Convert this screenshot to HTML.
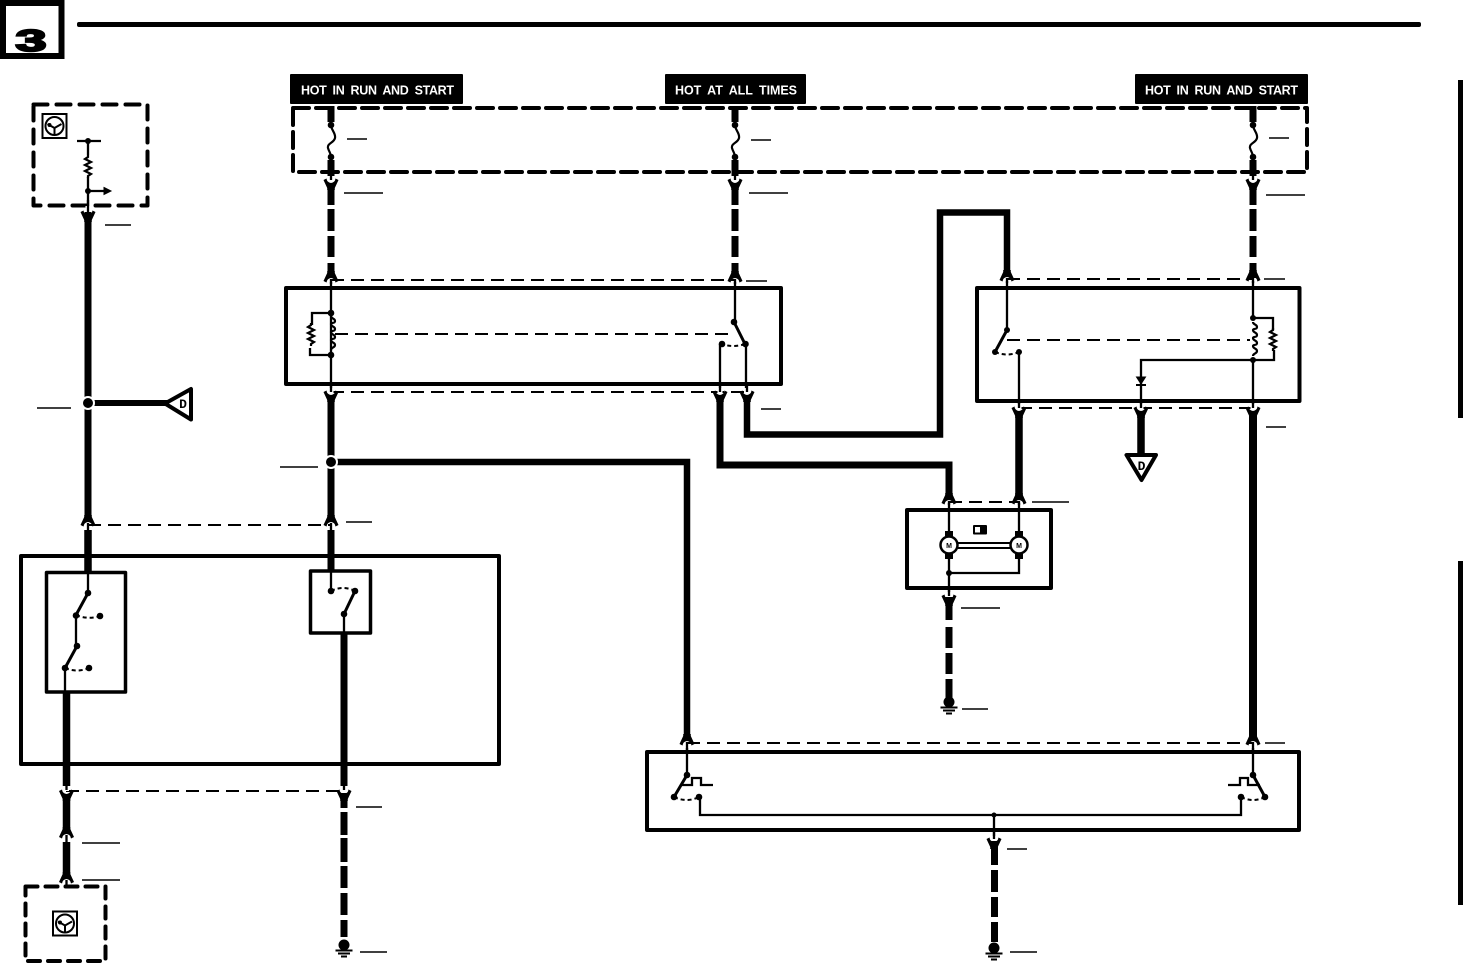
<!DOCTYPE html>
<html><head><meta charset="utf-8"><title>Wiring diagram</title>
<style>
html,body{margin:0;padding:0;background:#fff;overflow:hidden}
svg{display:block}
.hd{font:bold 12.5px "Liberation Sans",sans-serif;fill:#fff;word-spacing:3px}
.d{font:bold 13px "Liberation Mono",monospace;fill:#000;text-anchor:middle}
.m{font:bold 7px "Liberation Sans",sans-serif;fill:#000;text-anchor:middle}
</style></head><body>
<svg width="1463" height="963" viewBox="0 0 1463 963" xmlns="http://www.w3.org/2000/svg">
<defs>
<path id="y" d="M-7.500,-4 L-4.500,-5.500 Q-4,-1.500 0,-1 Q4,-1.500 4.500,-5.500 L7.500,-4 L3.800,4 L3.800,6 L-3.800,6 L-3.800,4 Z" fill="#000"/>
<g id="gnd"><circle cx="0" cy="0" r="5.500" fill="#000"/><path d="M-8.500,5.500H8.500M-6,8.500H6M-3,11.500H3" stroke="#000" stroke-width="2" fill="none"/></g>
<g id="icon"><rect x="-12" y="-12" width="24" height="24" fill="#fff" stroke="#000" stroke-width="2"/><circle cx="0" cy="0" r="9" fill="none" stroke="#000" stroke-width="2"/><path d="M-7,-2 L0,2 L7,-2 M0,2 V9" fill="none" stroke="#000" stroke-width="2"/><circle cx="-5" cy="-1" r="2" fill="#000"/></g>
<path id="fuse" d="M0,0 C0,5 5,8 4,13 C3,18 -4,18 -3,23 C-2,27 0,28 0,32" fill="none" stroke="#000" stroke-width="2.200"/>
<path id="res" d="M0,0 l0,2 l-3,2 l6,3 l-6,3 l6,3 l-6,3 l6,3 l-3,2 l0,2" fill="none" stroke="#000" stroke-width="2.200"/>
<path id="coil" d="M0,0 c0,3 4,2 4,5 c0,3 -4,1 -4,3 c0,3 4,2 4,5 c0,3 -4,1 -4,3 c0,3 4,2 4,5 c0,3 -4,1 -4,3 c0,3 4,2 4,5 c0,3 -4,2 -4,5" fill="none" stroke="#000" stroke-width="2.200"/>
</defs>

<rect width="1463" height="963" fill="#fff"/>

<!-- page badge -->
<rect x="3" y="3" width="58.500" height="53" fill="#fff" stroke="#000" stroke-width="6"/>
<text transform="translate(15.500,51) scale(1.8,1)" font-family="Liberation Sans" font-weight="bold" font-size="31" stroke="#000" stroke-width="2">3</text>
<rect x="77" y="22" width="1344" height="5" rx="2" fill="#000"/>
<rect x="1458" y="80" width="5" height="338" fill="#000"/>
<rect x="1458" y="561" width="5" height="344" fill="#000"/>

<!-- headers -->
<rect x="290" y="74" width="173" height="30" rx="1" fill="#000"/>
<rect x="665" y="74" width="141" height="30" rx="1" fill="#000"/>
<rect x="1135" y="74" width="173" height="30" rx="1" fill="#000"/>
<text class="hd" x="301" y="94.500" textLength="153" lengthAdjust="spacing">HOT IN RUN AND START</text>
<text class="hd" x="675" y="94.500" textLength="122" lengthAdjust="spacing">HOT AT ALL TIMES</text>
<text class="hd" x="1145" y="94.500" textLength="153" lengthAdjust="spacing">HOT IN RUN AND START</text>

<!-- dashed component boxes -->
<g fill="none" stroke="#000" stroke-width="4" stroke-linecap="round" stroke-linejoin="round">
<rect x="293" y="108" width="1014" height="64" stroke-dasharray="16,7"/>
<rect x="33.500" y="104.500" width="114" height="101" stroke-dasharray="14,9"/>
<rect x="25.500" y="886.500" width="80" height="74.500" stroke-dasharray="12,8"/>
</g>
<use href="#icon" transform="translate(54.500,126)"/>
<use href="#icon" transform="translate(65,923.500)"/>

<!-- solid boxes -->
<g fill="none" stroke="#000" stroke-width="4" stroke-linejoin="round">
<rect x="286" y="288" width="495" height="96"/>
<rect x="977" y="288" width="322.500" height="113"/>
<rect x="907" y="510" width="144" height="78"/>
<rect x="21" y="556" width="478" height="208"/>
<rect x="647" y="752" width="652" height="78"/>
</g>
<g fill="#fff" stroke="#000" stroke-width="3.500" stroke-linejoin="round">
<rect x="46.500" y="572.500" width="79" height="119.500"/>
<rect x="310.500" y="571" width="60" height="62"/>
</g>

<!-- thin dashed link lines -->
<g fill="none" stroke="#000" stroke-width="2" stroke-dasharray="13,7">
<path d="M331,280H735"/>
<path d="M335,334H733"/>
<path d="M331,392H745"/>
<path d="M1007,279H1253"/>
<path d="M1007,340H1250"/>
<path d="M1019,408H1253"/>
<path d="M949,502H1019"/>
<path d="M88,525H331"/>
<path d="M66,791H344"/>
<path d="M687,743H1253"/>
</g>

<!-- thick solid wires -->
<g fill="none" stroke="#000" stroke-linejoin="miter">
<path d="M88,212V520" stroke-width="7"/>
<path d="M88,403H168" stroke-width="6"/>
<path d="M331,395V520" stroke-width="7"/>
<path d="M331,462H687V738" stroke-width="6.500"/>
<path d="M720,395V465H949V497" stroke-width="7"/>
<path d="M747,395V434.500H940V212.500H1007V275" stroke-width="6.500"/>
<path d="M1019,412V497" stroke-width="7.500"/>
<path d="M1141,412V456" stroke-width="7.500"/>
<path d="M1253,412V738" stroke-width="8"/>
<path d="M88,530V573" stroke-width="7.500"/>
<path d="M331,530V572" stroke-width="7"/>
<path d="M66.500,692V786" stroke-width="7.500"/>
<path d="M344,633V786" stroke-width="7"/>
<path d="M66.500,794V830" stroke-width="7.500"/>
<path d="M66.500,842V874" stroke-width="7.500"/>
<path d="M331,106V122M331,160V176M735,106V122M735,160V176M1253,106V122M1253,160V176" stroke-width="7"/>
</g>

<!-- thick dashed wires -->
<g fill="#000">
<path d="M327.500,183h7v22h-7zM327.500,209h7v22h-7zM327.500,236h7v21h-7zM327.500,263h7v15h-7z"/>
<path d="M731.500,183h7v22h-7zM731.500,209h7v22h-7zM731.500,236h7v21h-7zM731.500,263h7v15h-7z"/>
<path d="M1249.500,183h7v22h-7zM1249.500,209h7v22h-7zM1249.500,236h7v21h-7zM1249.500,263h7v15h-7z"/>
<path d="M945.500,597h7v23h-7zM945.500,627h7v21h-7zM945.500,653h7v21h-7zM945.500,679h7v19h-7z"/>
<path d="M340.500,793h7v15h-7zM340.500,812h7v23h-7zM340.500,838h7v24h-7zM340.500,866h7v22h-7zM340.500,893h7v22h-7zM340.500,920h7v17h-7z"/>
<path d="M991,841h7v24h-7zM991,870h7v22h-7zM991,897h7v20h-7zM991,922h7v20h-7z"/>
</g>

<!-- thin wires -->
<g fill="none" stroke="#000" stroke-width="2.300">
<path d="M77,141H101"/>
<path d="M88,141V155M88,177V212M88,191H104"/>
<path d="M331,282V392M735,282V322M720,344V392M746,344V392"/>
<path d="M331,313H312V325M331,355H310V348"/>
<path d="M1007,281V330M1019,352V408M1253,281V318M1253,360V408"/>
<path d="M1253,318H1273V330M1253,360H1274V350"/>
<path d="M1141,408V360H1253"/>
<path d="M949,503V596M1019,503V573H949"/>
<path d="M88,572V593M76,615V646M65,668V692"/>
<path d="M331,571V591M344,614V633"/>
<path d="M687,748V775M1253,748V775"/>
<path d="M700,797V815H1241V797"/>
<path d="M994,815V838"/>
<path d="M681,785H692V778H701V785H713"/>
<path d="M1228,785H1240V778H1248V785H1260"/>
</g>
<path d="M104,187.500L111,191L104,194.500Z" fill="#000" stroke="#000"/>

<!-- switch blades -->
<g fill="none" stroke="#000" stroke-width="3">
<path d="M734,322L745,344M1007,330L995,352M88,593L76,615M77,646L65,668M355,591L344,614M687,775L674,797M1253,775L1265,797"/>
</g>
<g fill="none" stroke="#000" stroke-width="2" stroke-dasharray="4,3">
<path d="M745,344Q733,348 722,344"/>
<path d="M995,352Q1007,357 1019,352"/>
<path d="M76,615Q88,620 100,616"/>
<path d="M65,668Q77,673 89,668"/>
<path d="M331,591Q343,585 355,591"/>
<path d="M674,797Q687,803 699,797"/>
<path d="M1241,797Q1253,803 1265,797"/>
</g>

<!-- fuses, resistors, coils -->
<use href="#fuse" x="331" y="125"/>
<use href="#fuse" x="735" y="125"/>
<use href="#fuse" x="1253" y="125"/>
<use href="#res" x="88" y="155"/>
<use href="#res" x="311" y="323"/>
<use href="#res" x="1273" y="328"/>
<use href="#coil" x="331" y="316"/>
<use href="#coil" x="1253" y="322"/>

<!-- diode -->
<path d="M1136.500,377H1145.500L1141,384Z" fill="#000" stroke="#000"/>
<path d="M1136,385H1146" stroke="#000" stroke-width="2"/>

<!-- dots -->
<g fill="#000">
<circle cx="88" cy="141" r="3"/><circle cx="88" cy="191" r="3"/>
<circle cx="331" cy="125" r="3.300"/><circle cx="331" cy="157" r="3.300"/>
<circle cx="735" cy="125" r="3.300"/><circle cx="735" cy="157" r="3.300"/>
<circle cx="1253" cy="125" r="3.300"/><circle cx="1253" cy="157" r="3.300"/>
<circle cx="331" cy="313" r="3.300"/><circle cx="331" cy="355" r="3.300"/>
<circle cx="734" cy="322" r="3.300"/><circle cx="745.500" cy="344" r="3.300"/><circle cx="722" cy="344" r="3.300"/>
<circle cx="1007" cy="330" r="3"/><circle cx="995" cy="352" r="3"/><circle cx="1019" cy="352" r="3"/>
<circle cx="1253" cy="318" r="3"/><circle cx="1253" cy="360" r="3"/>
<circle cx="949" cy="573" r="3"/>
<circle cx="88" cy="593" r="3.300"/><circle cx="76" cy="615.500" r="3.300"/><circle cx="100" cy="616" r="3.300"/>
<circle cx="77" cy="646" r="3.300"/><circle cx="65" cy="668" r="3.300"/><circle cx="89" cy="668" r="3.300"/>
<circle cx="331" cy="591" r="3.300"/><circle cx="355" cy="591" r="3.300"/><circle cx="344" cy="614" r="3.300"/>
<circle cx="687" cy="775" r="3.300"/><circle cx="674" cy="797" r="3.300"/><circle cx="699" cy="797" r="3.300"/>
<circle cx="1253" cy="775" r="3.300"/><circle cx="1265" cy="797" r="3.300"/><circle cx="1241" cy="797" r="3.300"/>
<circle cx="994" cy="815" r="2.500"/>
</g>
<g fill="#000" stroke="#fff" stroke-width="2">
<circle cx="88" cy="403" r="6"/>
<circle cx="331" cy="462" r="6"/>
</g>

<!-- grounds -->
<use href="#gnd" x="344" y="945"/>
<use href="#gnd" x="949" y="702"/>
<use href="#gnd" x="994" y="948"/>

<!-- triangles -->
<path d="M165,403.500L191,389V419.500Z" fill="#fff" stroke="#000" stroke-width="4" stroke-linejoin="round"/>
<text class="d" x="183" y="408">D</text>
<path d="M1126.500,455H1156L1141.500,480Z" fill="#fff" stroke="#000" stroke-width="4" stroke-linejoin="round"/>
<text class="d" x="1141.500" y="470">D</text>

<!-- motors -->
<path d="M958,543H1010M958,548H1010" stroke="#000" stroke-width="2"/>
<g fill="#000">
<rect x="945" y="531" width="8" height="7"/><rect x="945" y="552" width="8" height="7"/>
<rect x="1015" y="531" width="8" height="7"/><rect x="1015" y="552" width="8" height="7"/>
</g>
<g fill="#fff" stroke="#000" stroke-width="2.500">
<circle cx="949" cy="545" r="8.500"/><circle cx="1019" cy="545" r="8.500"/>
</g>
<text class="m" x="949" y="548">M</text>
<text class="m" x="1019" y="548">M</text>
<rect x="973" y="525" width="14" height="9.500" rx="1" fill="#000"/>
<rect x="975" y="527" width="5" height="5.500" fill="#fff"/>

<!-- connector halos and bodies -->
<g fill="none" stroke="#fff" stroke-width="5">
<path d="M331,177V181M735,177V181M1253,177V181M88,206V212M331,388V393M720,388V393M747,388V393M1019,404V409M1141,404V409M1253,404V409M949,592V597M66.500,787V791M344,787V791M994,836V840"/>
</g>
<g fill="none" stroke="#000" stroke-width="2.300">
<path d="M331,172V180M735,172V180M1253,172V180M88,200V212M331,384V392M720,384V392M747,384V392M1019,401V408M1141,401V408M1253,401V408M949,588V596M66.500,784V790M344,784V790M994,830V839"/>
</g>
<use href="#y" x="331" y="184"/><use href="#y" x="735" y="184"/><use href="#y" x="1253" y="184"/>
<use href="#y" x="88" y="216"/>
<use href="#y" x="331" y="396"/><use href="#y" x="720" y="396"/><use href="#y" x="747" y="396"/>
<use href="#y" x="1019" y="412"/><use href="#y" x="1141" y="412"/><use href="#y" x="1253" y="412"/>
<use href="#y" x="949" y="600"/>
<use href="#y" x="66.500" y="795"/><use href="#y" x="344" y="795"/>
<use href="#y" x="994" y="843"/>
<!-- inverted connectors -->
<use href="#y" transform="translate(331,277) scale(1,-1)"/>
<use href="#y" transform="translate(735,277) scale(1,-1)"/>
<use href="#y" transform="translate(1007,276) scale(1,-1)"/>
<use href="#y" transform="translate(1253,276) scale(1,-1)"/>
<use href="#y" transform="translate(949,499) scale(1,-1)"/>
<use href="#y" transform="translate(1019,499) scale(1,-1)"/>
<use href="#y" transform="translate(88,521) scale(1,-1)"/>
<use href="#y" transform="translate(331,521) scale(1,-1)"/>
<use href="#y" transform="translate(687,740) scale(1,-1)"/>
<use href="#y" transform="translate(1253,740) scale(1,-1)"/>
<use href="#y" transform="translate(66.500,833) scale(1,-1)"/>
<use href="#y" transform="translate(66.500,878) scale(1,-1)"/>
<g fill="none" stroke="#000" stroke-width="2.300">
<path d="M331,279V284M735,279V284M1007,278V283M1253,278V283M949,501V505M1019,501V505M88,523V531M331,523V531M687,742V750M1253,742V750M66.500,835V842M66.500,880V888"/>
</g>

<!-- label rules -->
<g stroke="#000" stroke-width="1.500" fill="none">
<path d="M105,225H131M37,408H71"/>
<path d="M347,139H367M344,193H383"/>
<path d="M751,140H771M749,193H788"/>
<path d="M1269,138H1289M1266,195H1305"/>
<path d="M746,281H767M1264,279H1285"/>
<path d="M761,409H781M1266,427H1286"/>
<path d="M280,467H318M346,522H372"/>
<path d="M1032,502H1069M961,608H1000M962,709H988"/>
<path d="M1265,743H1285M1007,849H1027M1010,952H1037"/>
<path d="M356,807H382M360,952H387"/>
<path d="M82,843H120M82,880H120"/>
</g>
</svg>
</body></html>
